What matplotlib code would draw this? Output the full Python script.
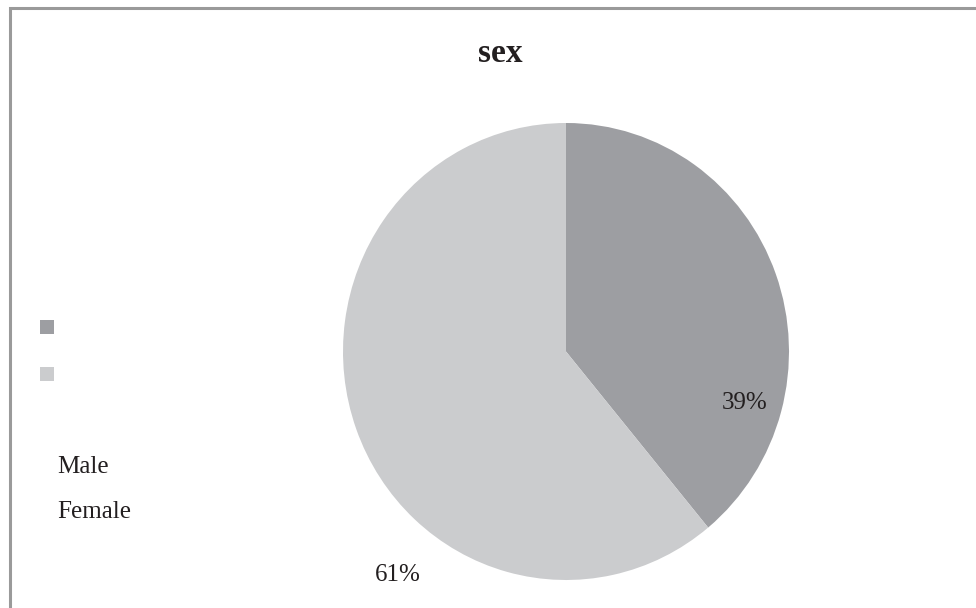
import matplotlib.pyplot as plt
from matplotlib.patches import Rectangle

labels = ['Male', 'Female']
shares = [39, 61]
colors = ['#9d9ea2', '#cbccce']
pct_text = ['39%', '61%']

plt.rcParams['font.family'] = ['Liberation Serif', 'DejaVu Serif']
W, H = 976, 608
fig = plt.figure(figsize=(W / 100, H / 100), dpi=100)
fig.patch.set_facecolor('white')

# outer frame (only top and left visible in the source)
fig.patches.append(Rectangle((10 / W, -0.05), 1.2, (H - 8) / H + 0.05,
                             transform=fig.transFigure, fill=False,
                             edgecolor='#9a9a9a', linewidth=2.2))

# pie axes sized to the slightly tall ellipse
ax = fig.add_axes([343 / W, (H - 580) / H, 446 / W, 457 / H])
wedges, _ = ax.pie(shares, colors=colors, startangle=90, counterclock=False,
                   radius=1, wedgeprops=dict(linewidth=0))
ax.set_aspect('auto')
ax.set_xlim(-1, 1)
ax.set_ylim(-1, 1)
ax.axis('off')

txt = '#231f20'
fig.text(745 / W, 1 - 403 / H, pct_text[0], ha='center', va='center', fontsize=18, color=txt)
fig.text(398 / W, 1 - 575 / H, pct_text[1], ha='center', va='center', fontsize=18, color=txt)

fig.text(500 / W, 1 - 54 / H, 'sex', ha='center', va='center', fontsize=24,
         fontweight='bold', color=txt)

# legend swatches and detached labels
for i, c in enumerate(colors):
    y0 = 320 + i * 47
    fig.patches.append(Rectangle((40 / W, 1 - (y0 + 14) / H), 14 / W, 14 / H,
                                 transform=fig.transFigure, facecolor=c, edgecolor='none'))
for i, lab in enumerate(labels):
    fig.text(57 / W, 1 - (473 + i * 45) / H, lab, ha='left', va='baseline',
             fontsize=18, color=txt)

fig.savefig('out.png', dpi=100, facecolor='white')
